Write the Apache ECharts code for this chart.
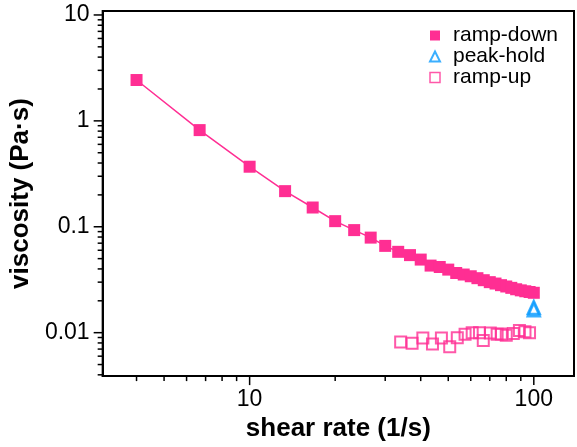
<!DOCTYPE html>
<html>
<head>
<meta charset="utf-8">
<script src="https://cdn.jsdelivr.net/npm/echarts@6/dist/echarts.min.js"></script>
<style>
  html, body { margin: 0; padding: 0; background: #fff; }
  #chart { width: 577px; height: 447px; }
</style>
</head>
<body>
<div id="chart"></div>
<script>
// ramp-down: filled squares joined by a line
const downRate = [4, 6.67, 10, 13.33, 16.67, 20, 23.33, 26.67, 30, 33.33, 36.67, 40, 43.33, 46.67, 50,
  53.33, 56.67, 60, 63.33, 66.67, 70, 73.33, 76.67, 80, 83.33, 86.67, 90, 93.33, 96.67, 100]
const downVisc = [2.43, 0.818, 0.369, 0.217, 0.152, 0.113, 0.093, 0.079, 0.066, 0.058, 0.054, 0.049, 0.043,
  0.0417, 0.0394, 0.0366, 0.0354, 0.0341, 0.0327, 0.0313, 0.0300, 0.0291, 0.0281, 0.0273, 0.0265,
  0.0257, 0.0251, 0.0246, 0.0242, 0.0238]

// peak-hold: open triangles at the top rate
const holdRate = [100, 100]
const holdVisc = [0.0173, 0.0165]

// ramp-up: open squares
const upRate = [34.0, 37.3, 40.7, 44.0, 47.3, 50.6, 53.8, 57.3, 60.7, 64.4, 66.4, 70.3, 74.3, 76.9, 80.0,
  84.7, 89.0, 93.1, 96.6]
const upVisc = [0.00815, 0.00794, 0.00891, 0.00781, 0.00889, 0.00736, 0.00894, 0.00964, 0.0100, 0.0100,
  0.00842, 0.00993, 0.00964, 0.00973, 0.00944, 0.0098, 0.0105, 0.0102, 0.0100]

const xTicks = [10, 100]
const xTickLabels = ['10', '100']
const yTicks = [0.01, 0.1, 1, 10]
const yTickLabels = ['0.01', '0.1', '1', '10']
const xMinor = [4, 5, 6, 7, 8, 9, 20, 30, 40, 50, 60, 70, 80, 90]
const yMinor = [0.004, 0.005, 0.006, 0.007, 0.008, 0.009, 0.02, 0.03, 0.04, 0.05, 0.06, 0.07, 0.08, 0.09,
  0.2, 0.3, 0.4, 0.5, 0.6, 0.7, 0.8, 0.9, 2, 3, 4, 5, 6, 7, 8, 9]

const xMin = 3.04, xMax = 138.5
const yMin = 0.00389, yMax = 10.9

const pink = '#ff2e93'
const blue = '#0a9bff'
const font = '"Liberation Sans", Arial, Helvetica, sans-serif'

// legend icons as paths so they keep a square aspect inside a wide slot
const squareIcon = 'path://M0,0H10V10H0Z'
const triangleIcon = 'path://M5,0L10,10H0Z'

const labelFor = (ticks, labels) => (v) => {
  const i = ticks.findIndex(t => Math.abs(Math.log10(t) - Math.log10(v)) < 0.01)
  return i >= 0 ? labels[i] : ''
}

const chart = echarts.init(document.getElementById('chart'))

chart.setOption({
  animation: false,
  backgroundColor: '#fff',
  grid: {
    left: 98, top: 11, right: -2, bottom: 66,
    show: true, borderColor: '#000', borderWidth: 2, backgroundColor: 'transparent'
  },
  legend: {
    orient: 'vertical',
    left: 424,
    top: 20,
    itemWidth: 26,
    itemHeight: 10,
    itemGap: 0,
    symbolKeepAspect: true,
    textStyle: { fontFamily: font, fontSize: 21, lineHeight: 20, color: '#000' },
    data: [
      { name: 'ramp-down', icon: squareIcon },
      { name: 'peak-hold', icon: triangleIcon, itemStyle: { borderWidth: 2 } },
      { name: 'ramp-up', icon: squareIcon, itemStyle: { borderWidth: 1.5 } }
    ]
  },
  xAxis: {
    type: 'log',
    logBase: 10,
    min: xMin,
    max: xMax,
    name: 'shear rate (1/s)',
    nameLocation: 'middle',
    nameGap: 32,
    nameTextStyle: { fontFamily: font, fontSize: 26, fontWeight: 'bold', color: '#000' },
    axisLine: { lineStyle: { color: '#000', width: 2 } },
    axisTick: { show: false },
    splitLine: { show: false },
    axisLabel: {
      margin: 12, fontFamily: font, fontSize: 23, color: '#000',
      formatter: labelFor(xTicks, xTickLabels)
    }
  },
  yAxis: {
    type: 'log',
    logBase: 10,
    min: yMin,
    max: yMax,
    name: 'viscosity (Pa·s)',
    nameLocation: 'middle',
    nameGap: 64,
    nameTextStyle: { fontFamily: font, fontSize: 26, fontWeight: 'bold', color: '#000' },
    axisLine: { lineStyle: { color: '#000', width: 2 } },
    axisTick: { show: false },
    splitLine: { show: false },
    axisLabel: {
      margin: 13, fontFamily: font, fontSize: 23, color: '#000',
      formatter: labelFor(yTicks, yTickLabels)
    }
  },
  series: [
    {
      name: 'ramp-up',
      type: 'scatter',
      symbol: 'rect',
      symbolSize: 11,
      itemStyle: { color: 'rgba(255,255,255,0)', borderColor: pink, borderWidth: 2 },
      data: upRate.map((x, i) => [x, upVisc[i]])
    },
    {
      name: 'peak-hold',
      type: 'scatter',
      symbol: 'triangle',
      symbolSize: [12, 13],
      itemStyle: { color: 'rgba(255,255,255,0)', borderColor: blue, borderWidth: 2.5 },
      data: holdRate.map((x, i) => [x, holdVisc[i]])
    },
    {
      name: 'ramp-down',
      type: 'line',
      symbol: 'rect',
      symbolSize: 12,
      showAllSymbol: true,
      lineStyle: { color: pink, width: 1.5 },
      itemStyle: { color: pink },
      data: downRate.map((x, i) => [x, downVisc[i]])
    }
  ]
})

// log ticks (major and 2..9 minor) placed through the axes' own scales
const drawTicks = () => {
  const x0 = chart.convertToPixel({ xAxisIndex: 0 }, xMin)
  const y0 = chart.convertToPixel({ yAxisIndex: 0 }, yMin)
  const els = []
  const tick = (x1, y1, x2, y2) => els.push({
    type: 'line', silent: true,
    shape: { x1, y1, x2, y2 },
    style: { stroke: '#000', lineWidth: 1.5 }
  })
  xTicks.forEach(v => { const p = chart.convertToPixel({ xAxisIndex: 0 }, v); tick(p, y0, p, y0 + 9) })
  xMinor.forEach(v => { if (v > xMin && v < xMax) { const p = chart.convertToPixel({ xAxisIndex: 0 }, v); tick(p, y0, p, y0 + 5) } })
  yTicks.forEach(v => { const p = chart.convertToPixel({ yAxisIndex: 0 }, v); tick(x0 - 9, p, x0, p) })
  yMinor.forEach(v => { if (v > yMin * 1.02 && v < yMax) { const p = chart.convertToPixel({ yAxisIndex: 0 }, v); tick(x0 - 5, p, x0, p) } })
  chart.setOption({ graphic: els })
}
drawTicks()
</script>
</body>
</html>
